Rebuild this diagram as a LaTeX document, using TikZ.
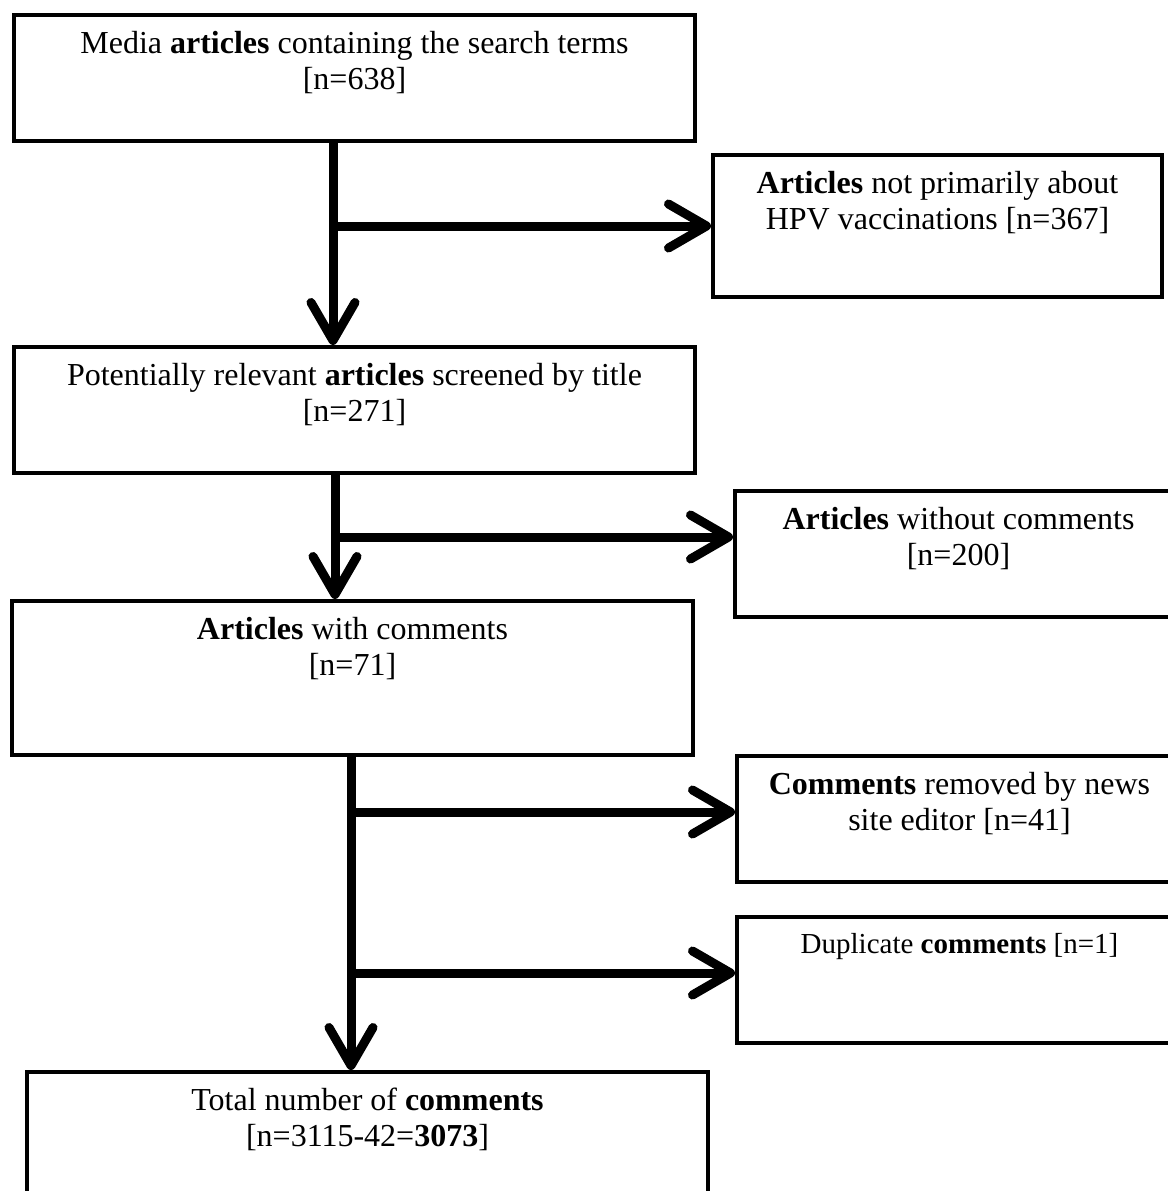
\documentclass[tikz,border=0pt]{standalone}
\usepackage{fontspec}
\setmainfont{Liberation Serif}
\usetikzlibrary{arrows.meta}
% text of a box: width, height, lines (set from the top)
\newcommand{\stagetext}[3]{\parbox[c][#2pt][t]{#1pt}{\centering\vspace*{16pt}#3}}
\begin{document}
\begin{tikzpicture}[x=1pt,y=-1pt,
  every node/.style={font=\fontsize{32}{36}\selectfont},
  stagebox/.style={draw, line width=4pt, inner sep=0pt, anchor=north west},
  flow/.style={line width=9pt, -{Straight Barb[length=38pt,width=44pt,line width=9pt,round]}}]
\useasboundingbox (0,0) rectangle (1167,1191);
% main column
\node[stagebox] (media) at (12,13) {\stagetext{681}{126}{Media \textbf{articles} containing the search terms\\{}[n=638]}};
\node[stagebox] (screened) at (12,345) {\stagetext{681}{126}{Potentially relevant \textbf{articles} screened by title\\{}[n=271]}};
\node[stagebox] (withcomments) at (10,599) {\stagetext{681}{154}{\textbf{Articles} with comments\\{}[n=71]}};
\node[stagebox] (total) at (25,1070) {\stagetext{681}{150}{Total number of \textbf{comments}\\{}[n=3115-42=\textbf{3073}]}};
% excluded
\node[stagebox] (offtopic) at (711,153) {\stagetext{449}{142}{\textbf{Articles} not primarily about\\HPV vaccinations [n=367]}};
\node[stagebox] (nocomments) at (733,489) {\stagetext{447}{126}{\textbf{Articles} without comments\\{}[n=200]}};
\node[stagebox] (removed) at (735,754) {\stagetext{445}{126}{\textbf{Comments} removed by news\\site editor [n=41]}};
\node[stagebox, font=\fontsize{29}{34}\selectfont] (duplicate) at (735,915) {\stagetext{445}{126}{Duplicate \textbf{comments} [n=1]}};
% arrows
\coordinate (splitA) at (333,226);
\coordinate (splitB) at (335,537);
\coordinate (splitC) at (351,812);
\coordinate (splitD) at (351,973);
\draw[flow] (media.south -| splitA) -- (screened.north -| splitA);
\draw[flow] (splitA) -- (splitA -| offtopic.west);
\draw[flow] (screened.south -| splitB) -- (withcomments.north -| splitB);
\draw[flow] (splitB) -- (splitB -| nocomments.west);
\draw[flow] (withcomments.south -| splitC) -- (total.north -| splitC);
\draw[flow] (splitC) -- (splitC -| removed.west);
\draw[flow] (splitD) -- (splitD -| duplicate.west);
\end{tikzpicture}
\end{document}
